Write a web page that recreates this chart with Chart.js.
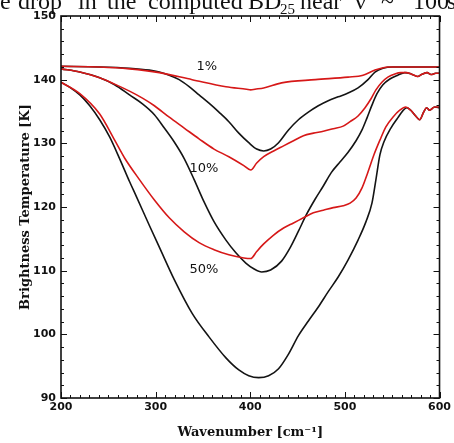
<!DOCTYPE html>
<html><head><meta charset="utf-8">
<script src="https://cdn.jsdelivr.net/npm/chart.js@4/dist/chart.umd.min.js"></script>
<style>html,body{margin:0;padding:0;background:#fff;overflow:hidden}</style>
</head><body>
<canvas id="c" width="454" height="443"></canvas>
<script>
// ---- data (wavenumber in cm^-1, brightness temperature in K) ----
const wnK1 = [200,240.9,272.4,293.4,303.9,314.4,324.9,335.4,345.9,356.4,366.9,377.4,387.9,398.4,406.8,414.2,421.5,429.9,440.4,450.9,461.4,471.9,482.4,492.9,503.4,513.9,524.4,531.8,540.2,550.7,600];
const tK1  = [142.1,142.0,141.8,141.5,141.2,140.7,140.0,138.9,137.6,136.3,134.9,133.4,131.6,130.1,129.1,128.8,129.1,130.1,132.1,133.7,134.9,135.9,136.7,137.3,137.9,138.7,140.0,141.2,141.8,142.0,142.0];
const wnR1 = [200,240.9,272.4,303.9,338.6,374.3,396,400.5,405,414.2,433.1,468.8,503.4,519.2,531.8,545.4,600];
const tR1  = [142.1,142.0,141.7,141.1,140.0,138.9,138.5,138.4,138.5,138.7,139.5,140.0,140.4,140.7,141.5,142.0,142.0];

const wnK10 = [200,219.9,240.9,256.7,272.4,286.1,298.7,309.2,319.7,330.2,340.7,351.2,361.7,374.3,384.8,395.3,403.7,412.1,421.5,433.1,442.5,450.9,459.3,468.8,477.2,485.6,495.0,503.4,511.8,518.1,523.4,528.6,533.9,540.2,547.5,555.9,563.3,570,577,581,587,591,596,600];
const tK10  = [141.7,141.2,140.3,139.2,137.6,136.2,134.5,132.4,130.2,127.6,124.3,120.8,117.7,114.8,112.8,111.2,110.3,109.8,110.1,111.5,113.7,116.2,118.8,121.3,123.3,125.4,127.1,128.6,130.4,132.1,134.0,136.0,137.8,139.2,140.1,140.7,141.1,140.9,140.5,140.8,141.1,140.8,141.0,141.0];
const wnR10 = [200,219.9,240.9,256.7,272.4,286.1,298.7,314.4,330.2,345.9,361.7,377.4,393.2,400.5,406.8,414.2,424.7,435.2,445.7,456.2,466.7,477.2,487.7,498.2,505.5,513.9,521.3,527.6,532.8,539.1,545.4,552.8,559.1,565,570,577,581,587,591,596,600];
const tR10  = [141.7,141.2,140.3,139.3,138.2,137.1,135.9,134.1,132.4,130.7,129.1,127.9,126.5,125.8,126.9,127.9,128.8,129.6,130.4,131.2,131.6,131.9,132.3,132.7,133.4,134.3,135.6,137.0,138.4,139.6,140.4,140.9,141.1,141.1,140.9,140.5,140.8,141.1,140.8,141.0,141.0];

const wnK50 = [200,209.4,219.9,230.4,240.9,251.4,261.9,272.4,279.8,293.4,303.9,319.7,338.6,356.4,374.3,387.9,398.4,408.9,419.4,429.9,440.4,450.9,461.4,471.9,482.4,492.9,503.4,513.9,522.3,528.6,532.8,537.0,541.2,548.6,555.9,561.2,565.4,569.6,574.8,579.0,583.2,586.4,589.5,594.8,600];
const tK50  = [139.6,138.8,137.6,135.9,133.7,131.0,127.6,124.0,121.6,117.1,113.7,108.6,103.3,99.6,96.3,94.4,93.5,93.2,93.5,94.6,96.9,99.8,102.1,104.3,106.7,109.0,111.7,114.8,117.7,120.6,124.3,128.2,130.2,132.4,134.0,135.1,135.6,135.2,134.3,133.7,134.9,135.6,135.2,135.7,135.6];
const wnR50 = [200,219.9,240.9,256.7,267.2,282.9,298.7,314.4,330.2,345.9,361.7,377.4,393.2,400.5,406.8,414.2,424.7,435.2,445.7,456.2,466.7,477.2,487.7,498.2,505.5,511.8,518.1,524.4,530.7,537.0,543.3,550.7,558.0,564.3,569.6,574.8,579.0,583.2,586.4,589.5,594.8,600];
const tR50  = [139.6,137.8,134.6,130.5,127.7,124.3,121.1,118.3,116.1,114.4,113.3,112.5,112.0,111.9,113.0,114.2,115.6,116.7,117.5,118.3,119.1,119.5,119.9,120.2,120.6,121.4,123.0,125.5,128.2,130.5,132.6,134.1,135.2,135.7,135.2,134.3,133.7,134.9,135.6,135.2,135.7,135.7];

const curveLabels = ['1%','10%','50%'];
const labelWn = [354,351,351];
const labelT  = [142.0,126.1,110.1];

const xTickLabels = [200,300,400,500,600];
const yTickLabels = [90,100,110,120,130,140,150];

// ---- build ----
const pts = (xs, ys) => xs.map((x, i) => ({x, y: ys[i]}));
const RED = 'rgb(214,24,24)', BLK = 'rgb(20,20,20)';
const ds = (xs, ys, c) => ({data: pts(xs, ys), borderColor: c, borderWidth: 1.6, pointRadius: 0, fill: false, cubicInterpolationMode: 'monotone'});

const framePlugin = {
  id: 'frame',
  afterDraw(chart) {
    const {ctx, chartArea: a, scales: {x, y}} = chart;
    ctx.save();
    ctx.strokeStyle = '#111';
    ctx.lineWidth = 1;
    ctx.beginPath();
    for (let v = 200; v <= 600; v += 10) {
      const px = Math.round(x.getPixelForValue(v)) + 0.5;
      const L = (v % 100 === 0) ? 6 : 3;
      ctx.moveTo(px, a.bottom); ctx.lineTo(px, a.bottom - L);
      ctx.moveTo(px, a.top); ctx.lineTo(px, a.top + L);
    }
    for (let v = 90; v <= 150; v += 2) {
      const py = Math.round(y.getPixelForValue(v)) + 0.5;
      const L = (v % 10 === 0) ? 6 : 3;
      ctx.moveTo(a.left, py); ctx.lineTo(a.left + L, py);
      ctx.moveTo(a.right, py); ctx.lineTo(a.right - L, py);
    }
    ctx.stroke();
    ctx.lineWidth = 1.6;
    ctx.strokeRect(a.left, a.top, a.right - a.left, a.bottom - a.top);
    // curve labels
    ctx.fillStyle = '#111';
    ctx.font = '13px "DejaVu Sans"';
    ctx.textAlign = 'center';
    ctx.textBaseline = 'middle';
    curveLabels.forEach((t, i) => ctx.fillText(t, x.getPixelForValue(labelWn[i]), y.getPixelForValue(labelT[i])));
    // clipped caption fragment from the surrounding page
    ctx.font = '24px "Liberation Serif"';
    ctx.textAlign = 'left';
    ctx.textBaseline = 'alphabetic';
    const words = [['e',0],['drop',18],['in',78],['the',107],['computed',148],['BD',248],['near',300],['\u03BD',355],['~',381],['100',413],['s',447]];
    words.forEach(([w, px]) => ctx.fillText(w, px, 9));
    ctx.font = '15px "Liberation Serif"';
    ctx.fillText('25', 280, 14);
    ctx.restore();
  }
};

new Chart(document.getElementById('c'), {
  type: 'line',
  data: {datasets: [
    ds(wnR1, tR1, RED), ds(wnR10, tR10, RED), ds(wnR50, tR50, RED),
    ds(wnK1, tK1, BLK), ds(wnK10, tK10, BLK), ds(wnK50, tK50, BLK)
  ]},
  options: {
    responsive: false,
    animation: false,
    layout: {padding: {top: 16, right: 12, left: 0, bottom: 0}},
    plugins: {legend: {display: false}, tooltip: {enabled: false}},
    scales: {
      x: {
        type: 'linear', min: 200, max: 600,
        afterBuildTicks: s => { s.ticks = xTickLabels.map(v => ({value: v})); },
        afterFit: s => { s.height = 45; },
        grid: {display: false, drawTicks: false},
        border: {display: false},
        ticks: {color: '#111', padding: 3, font: {family: 'DejaVu Sans', weight: 'bold', size: 11}, maxRotation: 0},
        title: {display: true, text: 'Wavenumber [cm\u207B\u00B9]', color: '#111', padding: {top: 0, bottom: 3}, font: {family: 'DejaVu Serif', weight: 'bold', size: 13}}
      },
      y: {
        type: 'linear', min: 90, max: 150,
        afterBuildTicks: s => { s.ticks = yTickLabels.map(v => ({value: v})); },
        afterFit: s => { s.width = 61; },
        grid: {display: false, drawTicks: false},
        border: {display: false},
        ticks: {color: '#111', padding: 5, font: {family: 'DejaVu Sans', weight: 'bold', size: 11}},
        title: {display: true, text: 'Brightness Temperature [K]', color: '#111', padding: {top: 18, bottom: 0}, font: {family: 'DejaVu Serif', weight: 'bold', size: 13}}
      }
    }
  },
  plugins: [framePlugin]
});
</script>
</body></html>
